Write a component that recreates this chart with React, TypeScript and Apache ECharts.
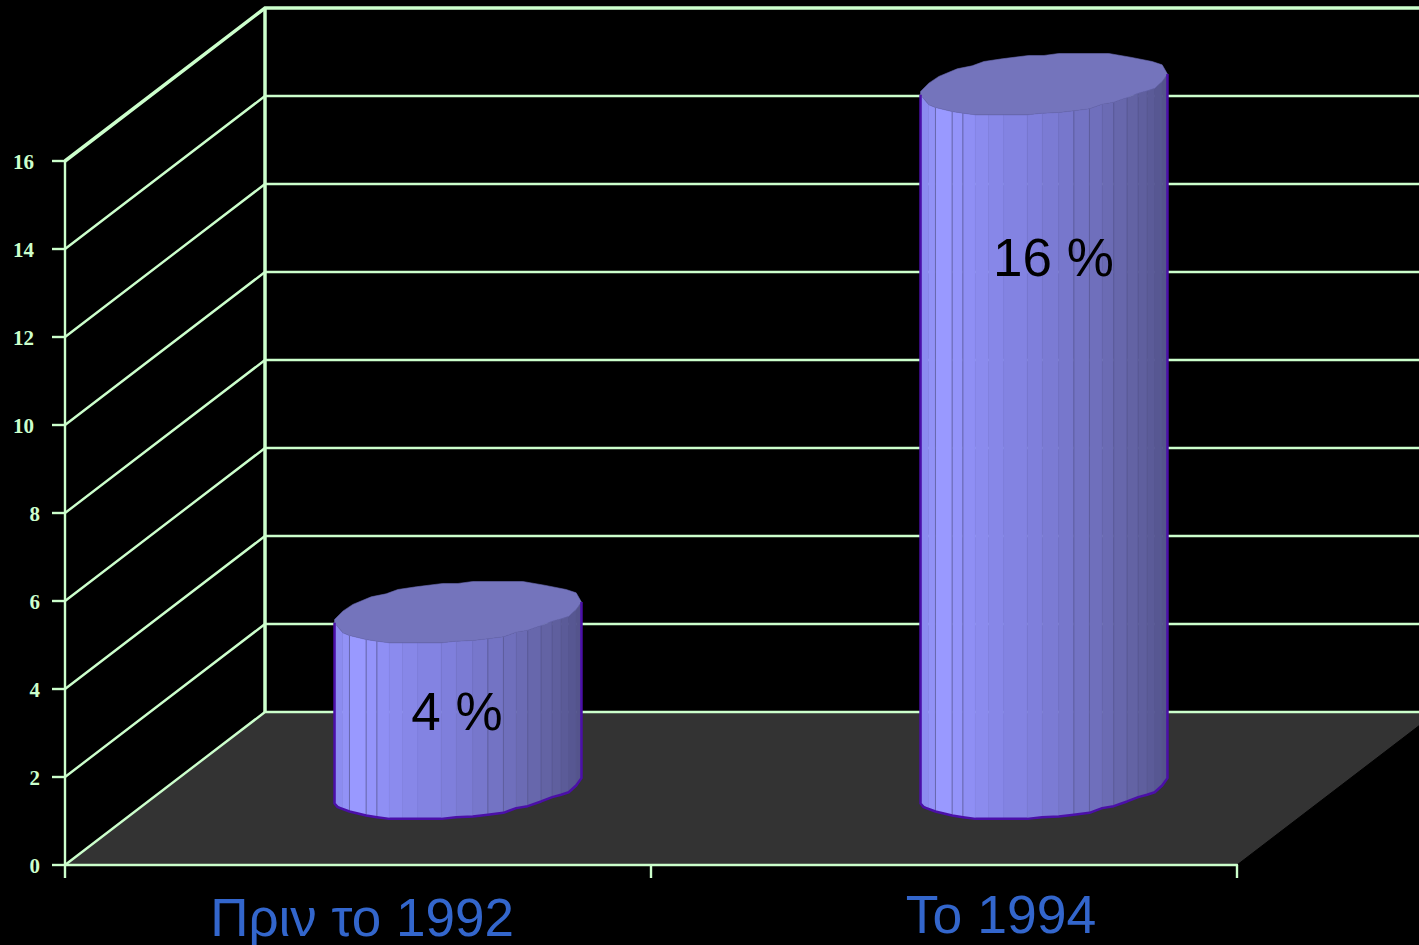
import React, { useEffect, useRef } from "react";
import * as echarts from "echarts";

const categories = ["Πριν το 1992", "Το 1994"];
const percentages = [4, 16];
const yTicks = [0, 2, 4, 6, 8, 10, 12, 14, 16];

const FRAME = "#ccffcc";
const FLOOR = "#333333";
const OUTLINE = "#4b0fa8";
const TOP_FACE = "#7474bc";
const LABEL_BLUE = "#3366cc";

// Perspective shift from the front plane of the box to its back wall.
const DEPTH_X = 200;
const DEPTH_Y = 153;

// Cylinder radius as a share of the category band.
const RADIUS_SHARE = 0.2107;

// Front rim of a faceted cylinder, in radii from its axis.
const FRONT_RIM = [
  [-1, 0.088], [-0.933, 0.169], [-0.879, 0.19], [-0.744, 0.223], [-0.657, 0.236],
  [-0.555, 0.25], [-0.447, 0.25], [-0.325, 0.25], [-0.136, 0.25], [-0.015, 0.236],
  [0.12, 0.231], [0.242, 0.217], [0.368, 0.201], [0.471, 0.163], [0.565, 0.147],
  [0.673, 0.109], [0.763, 0.074], [0.835, 0.055], [0.897, 0.034], [0.957, -0.02],
  [1, -0.08],
];
// The lower rim sits a little flatter at its left end than the upper one.
const BASE_LEFT_RIM = [
  [-1, 0.125], [-0.975, 0.155],
];
// Back rim, running from the right edge round to the left edge.
const BACK_RIM = [
  [0.957, -0.155], [0.876, -0.182], [0.7, -0.217], [0.525, -0.247], [0.12, -0.247],
  [0, -0.231], [-0.123, -0.231], [-0.339, -0.204], [-0.487, -0.182], [-0.582, -0.147],
  [-0.703, -0.123], [-0.852, -0.061], [-0.933, -0.007], [-1, 0.061],
];
// Fill of each side facet, left to right.
const FACET_SHADES = [
  "#8c8cf0", "#9292f6", "#9999ff", "#9494fa", "#8f8ff4", "#8b8bee", "#8787e8", "#8383e2",
  "#7f7fdc", "#7b7bd4", "#7777cc", "#7373c4", "#6f6fbc", "#6b6bb4", "#6767ac", "#6363a4",
  "#5f5f9e", "#5b5b98", "#575792", "#54548c",
];
// Facets whose left seam shows as a darker line.
const DARK_SEAMS = [2, 3, 4, 11, 12, 14, 15, 16, 17, 18, 19];

// Value label placement: drop below the cylinder's top centre and sideways shift from its axis.
const VALUE_LABEL_DROP = [99, 173];
const VALUE_LABEL_SHIFT = [-1, 9.5];

function renderFrame(params: any, api: any) {
  const tick = api.value(1);
  const sys = params.coordSys;
  const y = api.coord([0, tick])[1];
  const left = sys.x;
  const right = sys.x + sys.width;
  const heavy = tick === yTicks[yTicks.length - 1];
  const lineStyle = { stroke: FRAME, lineWidth: heavy ? 3.5 : 2.4, fill: "none" };
  const children: any[] = [];
  if (tick === 0) {
    children.push({
      type: "polygon",
      shape: {
        points: [
          [left, y],
          [left + DEPTH_X, y - DEPTH_Y],
          [right + DEPTH_X, y - DEPTH_Y],
          [right, y],
        ],
      },
      style: { fill: FLOOR, stroke: "#000", lineWidth: 1 },
    });
    const topY = api.coord([0, yTicks[yTicks.length - 1]])[1];
    children.push({
      type: "line",
      shape: { x1: left + DEPTH_X, y1: y - DEPTH_Y, x2: left + DEPTH_X, y2: topY - DEPTH_Y },
      style: { stroke: FRAME, lineWidth: 3.5 },
    });
  }
  children.push({
    type: "polyline",
    shape: {
      points: [
        [left, y],
        [left + DEPTH_X, y - DEPTH_Y],
        [right + DEPTH_X, y - DEPTH_Y],
      ],
    },
    style: lineStyle,
  });
  return { type: "group", children };
}

function renderCylinder(params: any, api: any) {
  const cat = api.value(0);
  const value = api.value(1);
  const front = api.coord([cat, 0]);
  const head = api.coord([cat, value]);
  const r = api.size([1, 0])[0] * RADIUS_SHARE;
  const cx = front[0] + DEPTH_X / 2;
  const baseY = front[1] - DEPTH_Y / 2 - 0.5;
  const topY = head[1] - DEPTH_Y / 2 - 0.5;
  const rimTop = ([u, v]: number[]) => [cx + u * r, topY + v * r];
  const rimBase = ([u, v]: number[]) => [cx + u * r, baseY + v * r];

  const children: any[] = [];
  FACET_SHADES.forEach((shade, i) => {
    children.push({
      type: "polygon",
      shape: {
        points: [
          rimTop(FRONT_RIM[i]),
          rimTop(FRONT_RIM[i + 1]),
          rimBase(FRONT_RIM[i + 1]),
          rimBase(i === 0 ? BASE_LEFT_RIM[0] : FRONT_RIM[i]),
        ],
      },
      style: { fill: shade, stroke: shade, lineWidth: 0.6 },
    });
  });
  DARK_SEAMS.forEach((i) => {
    const a = rimTop(FRONT_RIM[i]);
    const b = rimBase(FRONT_RIM[i]);
    children.push({
      type: "line",
      shape: { x1: a[0], y1: a[1], x2: b[0], y2: b[1] },
      style: { stroke: "#5a5a96", lineWidth: 1, opacity: 0.75 },
    });
  });
  children.push({
    type: "polygon",
    shape: { points: [...FRONT_RIM, ...BACK_RIM].map(rimTop) },
    style: { fill: TOP_FACE, stroke: "#6a6ab2", lineWidth: 0.6 },
  });
  children.push({
    type: "polyline",
    shape: {
      points: [
        rimTop(FRONT_RIM[0]),
        ...BASE_LEFT_RIM.map(rimBase),
        ...FRONT_RIM.slice(2).map(rimBase),
        rimTop(FRONT_RIM[FRONT_RIM.length - 1]),
      ],
    },
    style: { stroke: OUTLINE, lineWidth: 2.5, fill: "none", lineJoin: "round" },
  });
  children.push({
    type: "text",
    style: {
      x: cx + VALUE_LABEL_SHIFT[params.dataIndex],
      y: topY + VALUE_LABEL_DROP[params.dataIndex],
      text: `${value} %`,
      fill: "#000",
      font: '53px "Liberation Sans"',
      align: "center",
      verticalAlign: "middle",
    },
  });
  return { type: "group", children };
}

export default function App() {
  const ref = useRef<HTMLDivElement>(null);
  useEffect(() => {
    const chart = echarts.init(ref.current!, null, { renderer: "svg" });
    chart.setOption({
      animation: false,
      backgroundColor: "#000",
      grid: { left: 65, right: 182, top: 161, bottom: 80, outerBoundsMode: "none" },
      xAxis: {
        type: "category",
        z: 10,
        data: [
          { value: categories[0], textStyle: { padding: [4, 0, 0, 8] } },
          { value: categories[1], textStyle: { padding: [0, 0, 0, 114], fontSize: 53.5 } },
        ],
        axisLine: { lineStyle: { color: FRAME, width: 2.4 } },
        axisTick: { show: true, length: 13, lineStyle: { color: FRAME, width: 2.4 } },
        axisLabel: {
          color: LABEL_BLUE,
          fontFamily: "Liberation Sans",
          fontSize: 53,
          margin: 22,
          interval: 0,
        },
      },
      yAxis: {
        type: "value",
        min: 0,
        max: 16,
        interval: 2,
        z: 10,
        splitLine: { show: false },
        axisLine: { show: true, lineStyle: { color: FRAME, width: 2.4 } },
        axisTick: { show: true, length: 13, lineStyle: { color: FRAME, width: 2.4 } },
        axisLabel: {
          margin: 25,
          formatter: (v: number) => (v >= 10 ? `{wide|${v}}` : `{narrow|${v}}`),
          rich: {
            wide: {
              color: FRAME,
              fontFamily: "Liberation Serif",
              fontWeight: "bold",
              fontSize: 21,
              padding: [2, 6, 0, 0],
            },
            narrow: {
              color: FRAME,
              fontFamily: "Liberation Serif",
              fontWeight: "bold",
              fontSize: 21,
              padding: [2, 0, 0, 0],
            },
          },
        },
      },
      series: [
        {
          type: "custom",
          name: "frame",
          z: 1,
          silent: true,
          data: yTicks.map((t) => [0, t]),
          encode: { x: 0, y: 1 },
          renderItem: renderFrame,
        },
        {
          type: "custom",
          name: "share",
          z: 5,
          data: percentages.map((p, i) => [i, p]),
          encode: { x: 0, y: 1 },
          renderItem: renderCylinder,
        },
      ],
    });
    return () => chart.dispose();
  }, []);
  return (
    <div
      ref={ref}
      style={{ position: "fixed", left: 0, top: 0, width: 1419, height: 945, overflow: "hidden" }}
    />
  );
}
